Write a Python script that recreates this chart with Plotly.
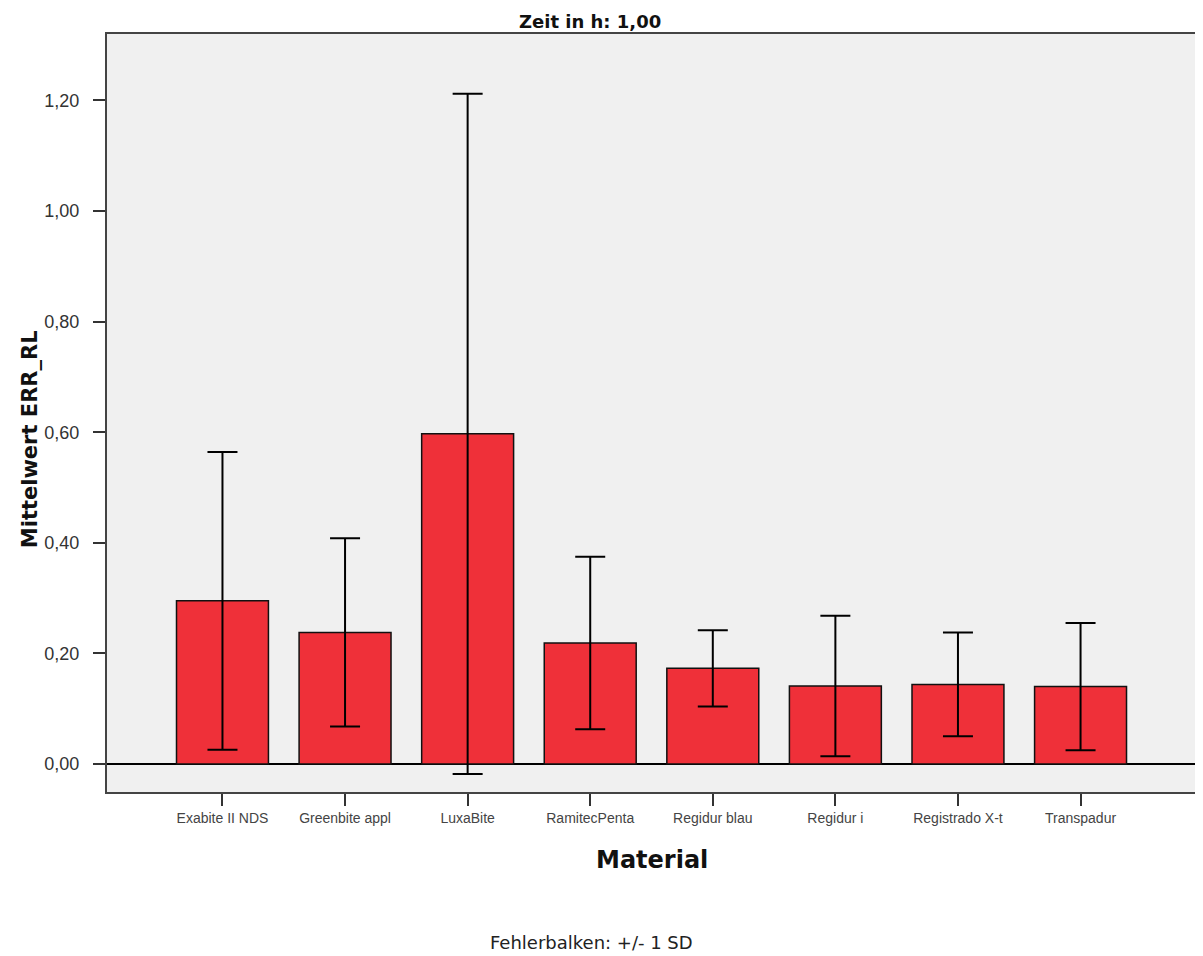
import plotly.graph_objects as go

categories = ["Exabite II NDS", "Greenbite appl", "LuxaBite", "RamitecPenta",
              "Regidur blau", "Regidur i", "Registrado X-t", "Transpadur"]
means = [0.295, 0.238, 0.597, 0.219, 0.173, 0.141, 0.144, 0.140]
sds = [0.269, 0.170, 0.615, 0.156, 0.069, 0.127, 0.094, 0.115]
ytick_vals = [0.0, 0.2, 0.4, 0.6, 0.8, 1.0, 1.2]
ytick_text = ["0,00", "0,20", "0,40", "0,60", "0,80", "1,00", "1,20"]

fig = go.Figure()
fig.add_trace(go.Bar(
    x=categories, y=means,
    width=0.75,
    marker=dict(color="#EF3039", line=dict(color="#111111", width=1.5)),
    error_y=dict(type="data", array=sds, visible=True, color="#000000",
                 thickness=2, width=15),
    showlegend=False,
))

# page body has an 8px default margin: figure is sized to fit the 1203x956 window
fig.update_layout(
    width=1195, height=948,
    paper_bgcolor="white", plot_bgcolor="#F0F0F0",
    margin=dict(l=99, r=4, t=26, b=164),
    font=dict(family="Liberation Sans, Arial, sans-serif", color="#333333"),
)
fig.update_xaxes(
    range=[-0.942, 7.95], showline=True, mirror=True, linecolor="#444444", linewidth=2,
    ticks="outside", ticklen=12, tickwidth=2, tickcolor="#333333",
    tickfont=dict(size=14, color="#444444", family="Liberation Sans, Arial, sans-serif"),
    showgrid=False, zeroline=False,
)
fig.update_yaxes(
    range=[-0.0506, 1.320], tickvals=ytick_vals, ticktext=ytick_text,
    showline=True, mirror=True, linecolor="#444444", linewidth=2,
    ticks="outside", ticklen=12, tickwidth=2, tickcolor="#333333",
    tickfont=dict(size=18, color="#333333"), ticklabelstandoff=10,
    showgrid=False, zeroline=True, zerolinecolor="#000000", zerolinewidth=1.5,
)

fig.add_annotation(text="<b>Zeit in h: 1,00</b>", xref="paper", yref="paper",
                   x=0.4432, y=1.0336, showarrow=False, xanchor="center", yanchor="top",
                   font=dict(size=18, color="#111111", family="DejaVu Sans, sans-serif"))
fig.add_annotation(text="<b>Mittelwert ERR_RL</b>", xref="paper", yref="paper",
                   x=-0.0705, y=0.4657, showarrow=False, textangle=-90,
                   xanchor="center", yanchor="middle",
                   font=dict(size=21, color="#111111", family="DejaVu Sans, sans-serif"))
fig.add_annotation(text="<b>Material</b>", xref="paper", yref="paper",
                   x=0.5, y=-0.0897, showarrow=False, xanchor="center", yanchor="middle",
                   font=dict(size=24, color="#111111", family="DejaVu Sans, sans-serif"))
fig.add_annotation(text="Fehlerbalken: +/- 1 SD", xref="paper", yref="paper",
                   x=0.4441, y=-0.1992, showarrow=False, xanchor="center", yanchor="middle",
                   font=dict(size=18, color="#222222", family="DejaVu Sans, sans-serif"))

fig.write_html("out.html")
